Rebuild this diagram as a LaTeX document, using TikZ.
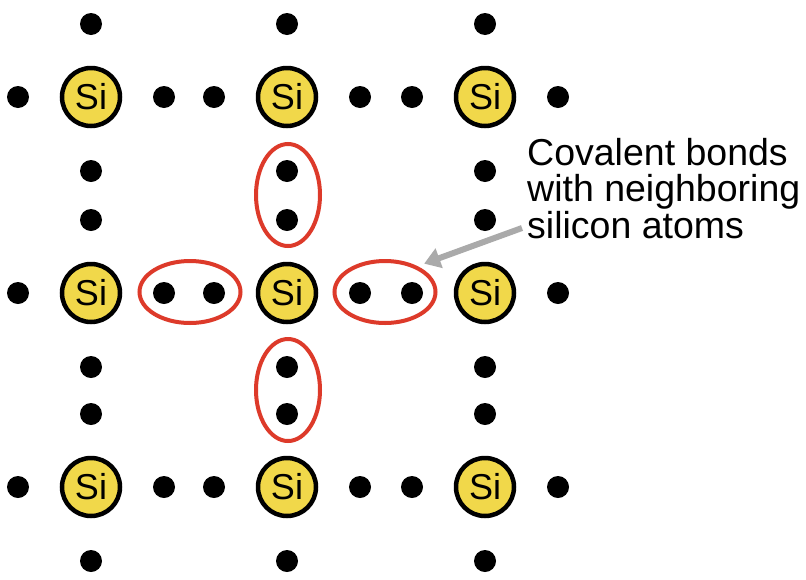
\documentclass[tikz,border=0pt]{standalone}
\usepackage{fontspec}
\setmainfont{Liberation Sans}
\usetikzlibrary{shapes.geometric,arrows.meta}
\definecolor{siyellow}{RGB}{241,216,74}
\definecolor{bondred}{RGB}{221,58,42}
\definecolor{arrowgray}{RGB}{170,170,170}
\tikzset{
  atom/.style={circle,draw=black,line width=4.5pt,fill=siyellow,minimum size=58pt,inner sep=0pt,font=\fontsize{36}{36}\selectfont},
  electron/.style={circle,fill=black,minimum size=22pt,inner sep=0pt},
  bondh/.style={ellipse,draw=bondred,line width=4pt,minimum width=101pt,minimum height=62pt,inner sep=0pt},
  bondv/.style={ellipse,draw=bondred,line width=4pt,minimum width=64pt,minimum height=102pt,inner sep=0pt},
  notetext/.style={align=left,inner sep=0pt,font=\fontsize{37.5}{36.5}\selectfont},
  pointer/.style={draw=arrowgray,line width=6pt,-{Triangle[length=16pt,width=20pt,fill=arrowgray]}}
}
\begin{document}
\begin{tikzpicture}[x=1pt,y=-1pt]
\useasboundingbox[fill=white] (0,0) rectangle (806,579);
\foreach \i/\x in {1/91,2/287,3/485}{
  \foreach \j/\y in {1/97,2/293,3/487}{
    \node[atom] (si\i\j) at (\x,\y) {Si};
    \node[electron] (e\i\j l) at (\x-73,\y) {};
    \node[electron] (e\i\j r) at (\x+73,\y) {};
    \node[electron] (e\i\j t) at (\x,\y-73) {};
    \node[electron] (e\i\j b) at (\x,\y+74) {};
  }
}
\node[bondh] (bondL) at (190,292) {};
\node[bondh] (bondR) at (385,292) {};
\node[bondv] (bondT) at (288,195) {};
\node[bondv] (bondB) at (288,390) {};
\node[notetext,anchor=base west] (note) at (527,238) {Covalent bonds\\with neighboring\\silicon atoms};
\coordinate (tail) at (522,228);
\draw[pointer] (tail) -- ([shift={(2,-5)}]bondR.north east);
\end{tikzpicture}
\end{document}
